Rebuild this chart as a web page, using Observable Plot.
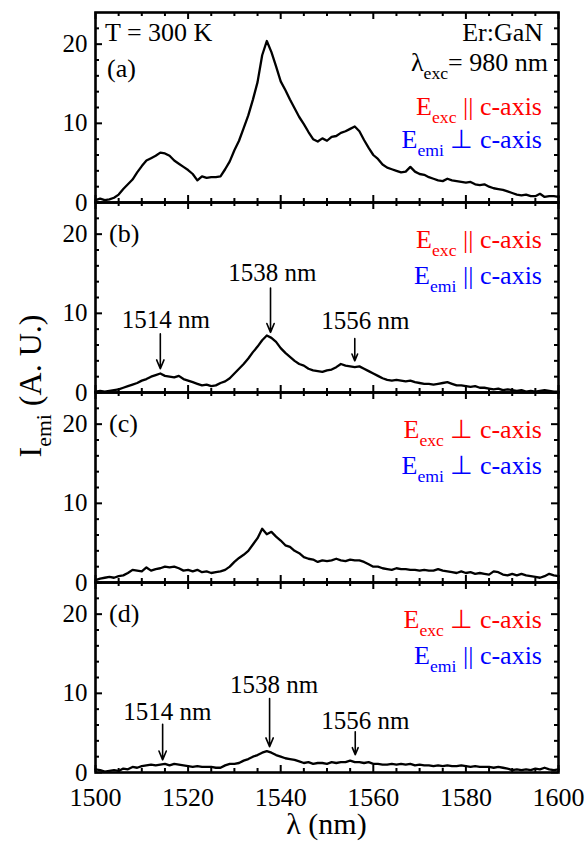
<!DOCTYPE html>
<html><head><meta charset="utf-8">
<script src="https://cdn.jsdelivr.net/npm/d3@7"></script>
<script src="https://cdn.jsdelivr.net/npm/@observablehq/plot@0.6"></script>
<style>
body{margin:0;background:#fff;}
#wrap{position:relative;width:588px;height:842px;}
#wrap svg{display:block;overflow:visible;}
#overlay{position:absolute;left:0;top:0;pointer-events:none;}
</style></head><body><div id="wrap"></div>
<script>
const wavelength = [1500,1501,1502,1503,1504,1505,1506,1507,1508,1509,1510,1511,1512,1513,1514,1515,1516,1517,1518,1519,1520,1521,1522,1523,1524,1525,1526,1527,1528,1529,1530,1531,1532,1533,1534,1535,1536,1537,1538,1539,1540,1541,1542,1543,1544,1545,1546,1547,1548,1549,1550,1551,1552,1553,1554,1555,1556,1557,1558,1559,1560,1561,1562,1563,1564,1565,1566,1567,1568,1569,1570,1571,1572,1573,1574,1575,1576,1577,1578,1579,1580,1581,1582,1583,1584,1585,1586,1587,1588,1589,1590,1591,1592,1593,1594,1595,1596,1597,1598,1599,1600];

// (a) Eexc || c, Eemi ⊥ c
const intensityA = [0.3,0.5,0.3,0.4,0.6,1.0,1.7,2.3,2.9,3.8,
4.6,5.3,5.6,5.9,6.3,6.2,5.9,5.3,4.9,4.5,
4.1,3.6,2.8,3.3,3.1,3.2,3.2,3.3,4.2,5.2,
6.6,7.8,9.4,11.0,13.0,15.2,18.6,20.4,19.0,17.2,
15.3,14.2,13.0,11.9,10.8,9.9,8.9,8.0,7.7,8.1,
7.8,8.3,8.4,8.8,9.0,9.3,9.6,9.0,7.9,6.9,
6.0,5.5,4.8,4.4,4.2,4.0,3.8,3.9,4.5,3.9,
3.6,3.5,3.2,3.0,2.8,2.7,3.0,2.8,2.7,2.6,
2.5,2.6,2.3,2.2,2.3,2.0,1.8,1.7,1.6,1.4,
1.2,1.0,0.9,1.0,0.8,0.8,1.1,0.7,0.8,0.8,0.7];

// (b) Eexc || c, Eemi || c
const intensityB = [0.1,0.2,0.1,0.2,0.3,0.4,0.6,0.8,1.0,1.2,
1.5,1.7,2.0,2.2,2.4,2.1,2.0,1.9,2.1,1.7,
1.5,1.3,1.1,0.9,1.0,0.8,0.9,1.2,1.4,1.8,
2.4,3.0,3.6,4.3,5.1,5.8,6.6,7.2,6.9,6.4,
5.6,5.0,4.5,4.0,3.6,3.4,3.0,2.8,2.7,2.6,
2.8,2.9,3.2,3.6,3.4,3.3,3.2,3.3,3.0,2.7,
2.4,2.1,1.8,1.6,1.5,1.6,1.5,1.4,1.5,1.3,
1.2,1.1,1.1,1.0,1.1,1.2,1.3,1.1,0.9,0.9,
0.8,0.7,0.8,0.6,0.6,0.5,0.4,0.5,0.3,0.4,
0.3,0.2,0.3,0.1,0.2,0.1,0.2,0.3,0.2,0.1,0.1];

// (c) Eexc ⊥ c, Eemi ⊥ c
const intensityC = [0.3,0.5,0.6,0.7,0.6,0.8,0.9,1.2,1.6,1.5,
1.4,1.9,1.5,1.7,1.8,2.0,1.9,2.0,1.8,1.5,
1.6,1.4,1.6,1.3,1.4,1.2,1.3,1.4,1.6,2.0,
2.6,3.1,3.5,4.0,4.8,5.6,6.8,6.1,6.4,5.8,
5.3,4.7,4.5,4.0,3.7,3.2,3.0,2.9,2.6,2.8,
2.7,2.8,3.0,2.8,2.7,2.9,2.8,2.8,2.6,2.3,
2.0,2.0,1.8,1.7,1.6,1.8,1.7,1.7,1.6,1.6,
1.5,1.6,1.5,1.5,1.7,1.5,1.4,1.3,1.2,1.4,
1.2,1.3,1.1,1.2,1.1,1.0,1.4,1.3,1.0,0.9,
1.1,0.9,1.1,0.9,0.8,0.7,0.6,0.8,1.1,0.9,0.8];

// (d) Eexc ⊥ c, Eemi || c
const intensityD = [0.4,0.3,0.1,0.2,0.3,0.2,0.5,0.4,0.7,0.6,
0.8,0.9,1.0,0.9,1.0,1.1,0.9,1.1,1.0,0.9,
0.8,0.7,0.8,0.7,0.7,0.7,0.6,0.6,0.9,1.1,
1.1,1.2,1.5,1.7,2.0,2.2,2.5,2.7,2.5,2.2,
2.0,1.8,1.7,1.6,1.4,1.2,1.3,1.1,1.2,1.2,
1.1,1.3,1.2,1.3,1.3,1.5,1.3,1.3,1.2,1.3,
1.1,1.1,1.0,1.0,1.1,1.0,1.1,1.0,1.1,0.9,
1.0,0.9,0.9,0.8,0.9,0.8,0.9,0.8,0.8,0.9,
0.8,0.7,0.8,0.7,0.7,0.7,0.6,0.7,0.6,0.5,
0.3,0.4,0.3,0.4,0.3,0.5,0.4,0.6,0.4,0.3,0.4];

const xMajorTicks = [1500,1520,1540,1560,1580,1600];
const xMinorTicks = [1505,1510,1515,1525,1530,1535,1545,1550,1555,1565,1570,1575,1585,1590,1595];
const yMajorTicks = [0,10,20];
const yMinorTicks = [2,4,6,8,12,14,16,18,22];

const panelLabels = ["(a)","(b)","(c)","(d)"];
const excRelation = ["||","||","\u22A5","\u22A5"];
const emiRelation = ["\u22A5","||","\u22A5","||"];

const peakNames = ["1514 nm","1538 nm","1556 nm"];
const peakArrowX = [1514,1537.8,1556];
const peakTextXB = [1515.2,1538.2,1558.3];
const peakTextYB = [8.2,14.1,8.0];
const arrowTopB = [7.4,13.2,6.8];
const arrowTipB = [3.0,7.6,4.0];
const peakArrowXD = [1514.5,1537.6,1556.1];
const peakTextXD = [1515.5,1538.6,1558.3];
const peakTextYD = [6.65,10.0,5.55];
const arrowTopD = [6.1,9.35,5.15];
const arrowTipD = [1.6,3.25,2.25];

// pick an installed serif face (Times-like first)
function pickSerif() {
  const cands = ["Liberation Serif","Tinos","Times New Roman","Times","Nimbus Roman","Nimbus Roman No9 L","FreeSerif","DejaVu Serif","Noto Serif","Bitstream Vera Serif","Georgia","serif"];
  const ctx = document.createElement("canvas").getContext("2d");
  const s = "mmmmmmmmmmlliiWWQ0123456789abcdefgh";
  const base = {};
  for (const b of ["monospace","sans-serif"]) { ctx.font = "40px " + b; base[b] = ctx.measureText(s).width; }
  for (const c of cands) {
    let found = false;
    for (const b of ["monospace","sans-serif"]) {
      ctx.font = `40px "${c}", ${b}`;
      if (Math.abs(ctx.measureText(s).width - base[b]) > 0.5) found = true;
    }
    if (found) return `"${c}", serif`;
  }
  return "serif";
}
const FONT = pickSerif();

const series = [intensityA,intensityB,intensityC,intensityD];
const W = 588, ML = 95, MR = 30, PH = 190;
const plotW = W - ML - MR;
const wrap = document.getElementById("wrap");
wrap.style.fontFamily = FONT;

function richText(svg, x, y, parts, size, fill, anchor) {
  const t = d3.select(svg).append("text")
    .attr("x", x).attr("y", y).attr("text-anchor", anchor || "end")
    .attr("font-size", size).attr("fill", fill).style("font-family", FONT);
  let shifted = 0;
  for (const p of parts) {
    const ts = t.append("tspan").text(p.t);
    if (p.sub) {
      ts.attr("font-size", size * 0.68).attr("dy", size * 0.3 - shifted);
      shifted = size * 0.3;
    } else if (shifted) {
      ts.attr("dy", -shifted);
      shifted = 0;
    }
  }
  return t;
}

for (let i = 0; i < 4; i++) {
  const mt = i === 0 ? 12 : 0;
  const mb = i === 3 ? 70 : 0;
  const rows = wavelength.map((w, j) => ({w, v: series[i][j]}));
  const marks = [
    Plot.tickX(xMajorTicks, {x: d => d, insetTop: PH - 7, strokeWidth: 2}),
    Plot.tickX(xMajorTicks, {x: d => d, insetBottom: PH - 7, strokeWidth: 2}),
    Plot.tickX(xMinorTicks, {x: d => d, insetTop: PH - 4, strokeWidth: 2}),
    Plot.tickX(xMinorTicks, {x: d => d, insetBottom: PH - 4, strokeWidth: 2}),
    Plot.tickY(yMajorTicks, {y: d => d, insetRight: plotW - 7, strokeWidth: 2}),
    Plot.tickY(yMajorTicks, {y: d => d, insetLeft: plotW - 7, strokeWidth: 2}),
    Plot.tickY(yMinorTicks, {y: d => d, insetRight: plotW - 4, strokeWidth: 2}),
    Plot.tickY(yMinorTicks, {y: d => d, insetLeft: plotW - 4, strokeWidth: 2}),
    Plot.line(rows, {x: "w", y: "v", stroke: "#000", strokeWidth: 2.3, strokeLinejoin: "round"}),
    Plot.frame({stroke: "#000", strokeWidth: 2.6}),
    Plot.axisY(yMajorTicks, {anchor: "left", tickSize: 0, tickPadding: 8, fontSize: 25, label: null, tickFormat: d => String(d)})
  ];
  if (i === 3) {
    marks.push(Plot.axisX(xMajorTicks, {anchor: "bottom", tickSize: 0, tickPadding: 15, fontSize: 26, label: null, tickFormat: d => String(d)}));
  }
  if (i === 1 || i === 3) {
    const b = i === 1;
    const peaks = peakNames.map((name, k) => ({
      name,
      ax: b ? peakArrowX[k] : peakArrowXD[k],
      tx: b ? peakTextXB[k] : peakTextXD[k],
      ty: b ? peakTextYB[k] : peakTextYD[k],
      top: b ? arrowTopB[k] : arrowTopD[k],
      tip: b ? arrowTipB[k] : arrowTipD[k]
    }));
    marks.push(Plot.arrow(peaks, {x1: "ax", x2: "ax", y1: "top", y2: "tip", stroke: "#000", strokeWidth: 1.6, headLength: 9, headAngle: 45}));
    marks.push(Plot.text(peaks, {x: "tx", y: "ty", text: "name", lineAnchor: "bottom", fontSize: 25, fill: "#000"}));
  }
  const svg = Plot.plot({
    width: W, height: PH + mt + mb,
    marginLeft: ML, marginRight: MR, marginTop: mt, marginBottom: mb,
    x: {domain: [1500, 1600], axis: null, label: null},
    y: {domain: [0, 24], axis: null, label: null},
    style: {fontFamily: FONT, color: "#000", background: "transparent", overflow: "visible"},
    marks
  });
  wrap.appendChild(svg);

  richText(svg, i === 0 ? 107 : 109, mt + (i === 0 ? 65 : 40), [{t: panelLabels[i]}], 26, "#000", "start");
  const exY = i === 0 ? mt + 103 : 46;
  const emY = i === 0 ? mt + 136 : 82;
  if (i === 0) {
    richText(svg, 105, mt + 29, [{t: "T = 300 K"}], 26, "#000", "start");
    richText(svg, 543, mt + 29, [{t: "Er:GaN"}], 26, "#000", "end");
    richText(svg, 548, mt + 59, [{t: "\u03BB"}, {t: "exc", sub: true}, {t: "= 980 nm"}], 26, "#000", "end");
  }
  richText(svg, 542, exY, [{t: "E"}, {t: "exc", sub: true}, {t: " " + excRelation[i] + " c-axis"}], 26, "#ff0000", "end");
  richText(svg, 542, emY, [{t: "E"}, {t: "emi", sub: true}, {t: " " + emiRelation[i] + " c-axis"}], 26, "#0000ff", "end");
}

const ov = d3.select(wrap).append("svg").attr("id", "overlay").attr("width", W).attr("height", 842);
const ovNode = ov.node();
richText(ovNode, ML + plotW / 2, 834, [{t: "\u03BB (nm)"}], 30, "#000", "middle");
const yt = richText(ovNode, 0, 0, [{t: "I"}, {t: "emi", sub: true}, {t: " (A. U.)"}], 32, "#000", "middle");
yt.attr("transform", "translate(41,386) rotate(-90)");
</script></body></html>
